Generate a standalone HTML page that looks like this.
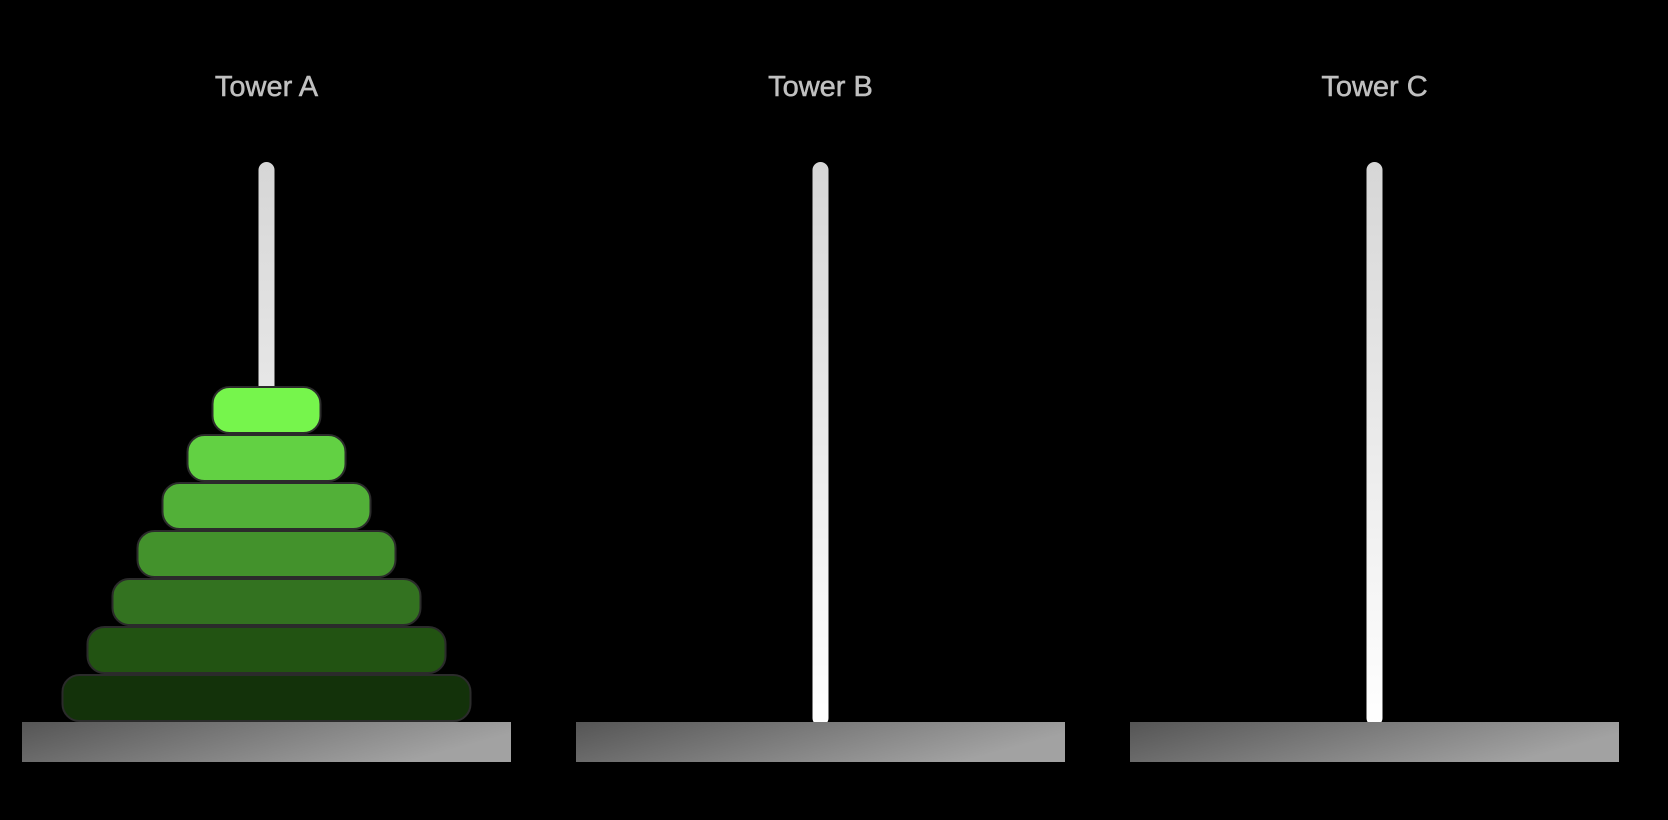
<!DOCTYPE html>
<html><head><meta charset="utf-8"><style>
html,body{margin:0;padding:0;background:#000;width:1668px;height:820px;overflow:hidden}
svg{display:block}
</style></head><body>
<svg width="1668" height="820" viewBox="0 0 1668 820">
<defs>
<linearGradient id="peg" x1="0" y1="0" x2="0" y2="1"><stop offset="0" stop-color="#d6d6d6"/><stop offset="1" stop-color="#ffffff"/></linearGradient>
<linearGradient id="base" x1="0" y1="0" x2="1" y2="0.3"><stop offset="0" stop-color="#555"/><stop offset="1" stop-color="#a2a2a2"/></linearGradient>
</defs>
<g id="g"></g>
</svg>
<script>
const towers = ["Tower A","Tower B","Tower C"];
const diskWidths = [408,358,308,258,208,158,108];
const diskColors = ["#13320a","#225312","#337220","#43922c","#52b038","#62d143","#76f54c"];
const diskTower = [0,0,0,0,0,0,0];
const NS="http://www.w3.org/2000/svg";
const g=document.getElementById('g');
const baseX=[22,576,1130], baseW=489, baseY=722, baseH=40;
const pegTop=162, pegW=16, diskH=46, pitch=48;
function mk(t,a){const e=document.createElementNS(NS,t);for(const k in a)e.setAttribute(k,a[k]);g.appendChild(e);return e;}
const counts=[0,0,0];
towers.forEach((name,i)=>{
  const cx=baseX[i]+baseW/2;
  const t=mk('text',{x:cx,y:96,'text-anchor':'middle','font-family':'Liberation Sans, sans-serif','font-size':'29',fill:'#c0c0c0',stroke:'#c0c0c0','stroke-width':'0.5'});
  t.textContent=name;
  
  
  const p=mk('rect',{x:cx-pegW/2,y:pegTop,width:pegW,height:baseY-pegTop+4,rx:8,fill:'url(#peg)'});
  
  
  const b=mk('rect',{x:baseX[i],y:baseY,width:baseW,height:baseH,fill:'url(#base)'});
  
  
});
diskWidths.forEach((w,j)=>{
  const ti=diskTower[j];
  const cx=baseX[ti]+baseW/2;
  const k=counts[ti]++;
  const d=mk('rect',{x:cx-w/2,y:baseY-pitch*(k+1)+1,width:w,height:diskH,rx:17,fill:diskColors[j],stroke:'#2b2b2b','stroke-width':2});
  
  
});
</script>
</body></html>
